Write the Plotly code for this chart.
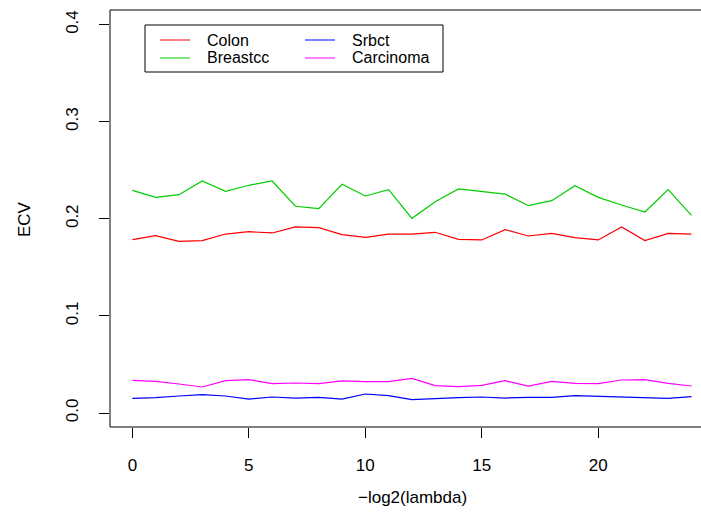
import plotly.graph_objects as go

# ---- data ----
neg_log2_lambda = [0, 1, 2, 3, 4, 5, 6, 7, 8, 9, 10, 11, 12,
                   13, 14, 15, 16, 17, 18, 19, 20, 21, 22, 23, 24]

colon = [0.1785, 0.1826, 0.1768, 0.1775, 0.1843, 0.1867, 0.1854, 0.1916, 0.1909,
         0.1837, 0.1809, 0.1843, 0.1843, 0.1861, 0.1789, 0.1782, 0.1888, 0.1823,
         0.1850, 0.1806, 0.1782, 0.1916, 0.1775, 0.1850, 0.1843]

breastcc = [0.2293, 0.2221, 0.2248, 0.2389, 0.2283, 0.2345, 0.2389, 0.2129, 0.2104,
            0.2355, 0.2235, 0.2300, 0.2005, 0.2176, 0.2307, 0.2279, 0.2255, 0.2135,
            0.2187, 0.2341, 0.2221, 0.2142, 0.2070, 0.2300, 0.2036]

srbct = [0.0151, 0.0158, 0.0175, 0.0189, 0.0175, 0.0144, 0.0165, 0.0154, 0.0161,
         0.0144, 0.0196, 0.0179, 0.0137, 0.0151, 0.0158, 0.0165, 0.0154, 0.0161,
         0.0161, 0.0179, 0.0172, 0.0168, 0.0165, 0.0151, 0.0168]

carcinoma = [0.0337, 0.0326, 0.0299, 0.0268, 0.0333, 0.0343, 0.0302, 0.0309, 0.0302,
             0.0330, 0.0323, 0.0323, 0.0357, 0.0282, 0.0271, 0.0285, 0.0333, 0.0278,
             0.0326, 0.0306, 0.0302, 0.0340, 0.0343, 0.0306, 0.0278]

series_names = ["Colon", "Breastcc", "Srbct", "Carcinoma"]
series_values = [colon, breastcc, srbct, carcinoma]
series_colors = ["#FF0000", "#00CD00", "#0000FF", "#FF00FF"]

x_tick_vals = [0, 5, 10, 15, 20]
x_tick_text = ["0", "5", "10", "15", "20"]
y_tick_vals = [0.0, 0.1, 0.2, 0.3, 0.4]
y_tick_text = ["0.0", "0.1", "0.2", "0.3", "0.4"]

# ---- layout geometry ----
W, H = 701, 512
ML, MR, MT, MB = 110, 0, 10, 85
PW, PH = W - ML - MR, H - MT - MB
FONT = "Liberation Sans, Arial, Helvetica, sans-serif"
FS = 17
LEG_FS = 16


def px_x(px):
    return (px - ML) / PW


def px_y(py):
    return (H - MB - py) / PH


fig = go.Figure()
for name, vals, col in zip(series_names, series_values, series_colors):
    fig.add_trace(go.Scatter(x=neg_log2_lambda, y=vals, mode="lines", name=name,
                             line=dict(color=col, width=1.2), showlegend=False))

shapes = [
    # plot box (right side lies beyond the visible page)
    dict(type="rect", xref="paper", yref="paper", x0=0, x1=1.05, y0=0, y1=1,
         line=dict(color="black", width=1), layer="above"),
    # legend box
    dict(type="rect", xref="paper", yref="paper", x0=px_x(145), x1=px_x(443),
         y0=px_y(72), y1=px_y(25), line=dict(color="black", width=1),
         fillcolor="white", layer="above"),
]
annotations = []
legend_pos = [(160, 40), (160, 58), (305, 40), (305, 58)]
for (lx, ly), name, col in zip(legend_pos, series_names, series_colors):
    shapes.append(dict(type="line", xref="paper", yref="paper", x0=px_x(lx), x1=px_x(lx + 30),
                       y0=px_y(ly), y1=px_y(ly), line=dict(color=col, width=1), layer="above"))
    annotations.append(dict(text=name, xref="paper", yref="paper", x=px_x(lx + 45), y=px_y(ly),
                            xanchor="left", yanchor="middle", showarrow=False,
                            font=dict(family=FONT, size=LEG_FS, color="black")))

annotations.append(dict(text="ECV", xref="paper", yref="paper", x=px_x(24), y=px_y(219),
                        xanchor="center", yanchor="middle", textangle=-90, showarrow=False,
                        font=dict(family=FONT, size=FS, color="black")))
annotations.append(dict(text="\u2212log2(lambda)", xref="paper", yref="paper", x=px_x(412),
                        y=px_y(497), xanchor="center", yanchor="middle", showarrow=False,
                        font=dict(family=FONT, size=FS, color="black")))

fig.update_layout(
    width=W, height=H,
    margin=dict(l=ML, r=MR, t=MT, b=MB, pad=0),
    paper_bgcolor="white", plot_bgcolor="white",
    font=dict(family=FONT, size=FS, color="black"),
    shapes=shapes, annotations=annotations,
    xaxis=dict(range=[-0.96, 24.41], tickvals=x_tick_vals, ticktext=x_tick_text,
               showgrid=False, zeroline=False, showline=False,
               ticks="outside", ticklen=10, tickwidth=1, tickcolor="black",
               ticklabelstandoff=13, tickfont=dict(family=FONT, size=FS, color="black")),
    yaxis=dict(range=[-0.0144, 0.415], tickvals=y_tick_vals, ticktext=y_tick_text,
               showgrid=False, zeroline=False, showline=False,
               ticks="outside", ticklen=10, tickwidth=1, tickcolor="black",
               tickangle=-90, ticklabelstandoff=14,
               tickfont=dict(family=FONT, size=FS, color="black")),
)

fig.write_html("out.html")
